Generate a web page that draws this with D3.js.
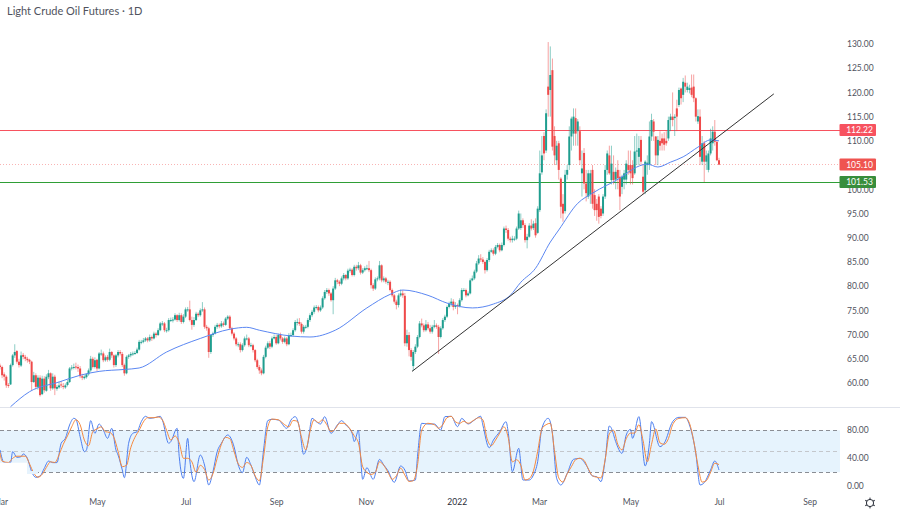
<!DOCTYPE html>
<html>
<head>
<meta charset="utf-8">
<title>Light Crude Oil Futures</title>
<script src="https://cdn.jsdelivr.net/npm/d3@7"></script>
<style>
  html, body { margin: 0; padding: 0; background: #fff; }
  svg { display: block; }
  text { font-family: Lato, "Liberation Sans", sans-serif; }
  .axis text { fill: #50535e; font-size: 8.5px; }
  .axis path, .axis line { display: none; }
</style>
</head>
<body>
<script>
// daily bars, ten per row
var opens = [
  63.6,63.3,61.8,61.3,59.6,59.7,63.7,65.7,66.6,64.4,
  63.6,65.8,65.4,65,64.8,64.4,60.2,61.6,59.2,61.1,
  57.7,60.9,58.4,61.2,62,58.9,61.3,58.8,59.1,59.7,
  59.4,59.1,59.6,60.2,63,63.1,63.4,63.3,63,61.4,
  61,61.2,61.8,62.6,65,63.3,64.8,63,66,66.1,
  64.7,65.4,64.8,66.4,65.7,63.7,65.7,66.4,66,63.7,
  62,65.4,65.7,66,66.1,66.2,66.9,68.4,68.5,68.8,
  69.2,68.8,69.5,69.2,70.2,69.9,70.9,72.3,72.3,70.9,
  70.9,73,73,73.1,74,73,74,72.6,73.7,75.2,
  75.2,73,72,73,74.3,74,75,75.2,71.6,71.3,
  66.4,69.9,70.2,71.6,72,71.7,72.3,72,73.3,73.7,
  71.3,70.2,69.2,68,68,66.8,67.8,69.2,69.2,67.8,
  67.8,66.8,64.7,63.3,62.6,62,65.4,67.3,68.2,67.5,
  69.2,69.5,68.2,69.9,69.2,68.5,69.2,68,69.9,69.9,
  70.9,72.6,72.6,72.2,70.6,71.6,71.6,73,74,74.7,
  75.6,75.7,75,75.6,77.5,78.8,79.2,78.5,77.1,79.5,
  81.2,80.9,80.5,81.6,82.3,81.6,83.2,83.4,82.3,84,
  83.7,84.3,82.8,83.3,83.7,83.7,83.3,80.2,79.5,81.4,
  81.6,84.3,81.2,81.6,80.9,80.9,79.2,78.1,76.8,76.1,
  78.1,78.5,78,68.2,69.9,66.8,63.5,66.4,67.5,69.5,
  72.3,71.9,70.9,72.1,71.3,70.6,71.6,71.9,71.6,69.5,
  71.3,73,73.7,75.7,76.4,76.8,75.7,76.1,75.9,77.1,
  79.2,79.2,78.1,78.5,81.2,81.6,83,84.7,85.7,85.5,
  85,83.3,85.4,87.1,87.4,86.7,88.1,88.5,87.4,88.5,
  91.9,91.6,89.8,89.5,89.8,89.8,91.9,92,93.6,92.6,
  89.5,90.2,92.5,92,93,91,95.7,103.5,111,108,
  121.2,120.5,124.6,111,106,109.5,102.2,97,95.5,103,
  105,110.9,111.5,114.7,112,112,103.3,107.5,101.2,98.5,
  99,104,98.8,97,98.5,96,95,98.5,104,107,
  101.9,103.6,102,104,102.6,100.5,102,102,105,105,
  105,103.3,107.8,106.7,110.2,102.6,99.8,105,105,110.9,
  114,110.9,107,110,110.5,110.5,110,110.5,114.3,115,
  114.7,116.7,117.4,120.8,119.5,122,120.5,120.5,121,121.2,
  118.8,114,115,105.7,109.5,105.7,104,107.4,109.5,111.9,
  109.8,106
];
var highs = [
  64,63.6,62.2,61.6,60,64,66,68,66.8,65,
  66.5,66.2,65.8,65.4,65,64.6,62.3,62,61.6,61.6,
  61.5,61.4,61.8,62.7,62.2,62,61.7,59.6,60.3,60.4,
  60,59.9,60.6,63.3,63.7,64,64.2,63.8,63.5,61.9,
  61.6,62,63,65.6,65.4,65.3,65,66.4,66.9,66.5,
  65.7,65.8,67.1,66.6,65.9,66,66.8,66.8,66.4,64,
  65.7,66,66.4,66.5,66.6,67.3,68.9,68.9,69.3,69.5,
  69.5,70,69.8,70.6,70.5,71.3,72.6,72.8,72.6,71.4,
  73.4,73.5,73.6,74.4,74.2,74.5,74.4,74.2,75.6,75.7,
  77,73.7,73.6,74.7,74.6,75.4,76.7,75.6,72,71.6,
  70,70.6,72,72.4,72.3,72.8,72.7,73.6,74,74,
  71.6,70.5,69.5,68.4,68.4,68.2,69.6,70,69.5,68.3,
  68.1,67,65,63.7,63,65.8,67.7,68.6,68.7,69.6,
  70,69.9,70.2,70.4,69.5,69.6,69.5,70.3,70.4,71.3,
  73,73.3,73.4,72.5,72,72,73.4,74.4,75.1,76,
  76.1,76,76,77.9,79.2,79.6,79.5,78.8,80,81.7,
  81.5,81.2,82,82.7,82.5,83.6,83.8,83.7,84.4,84.4,
  85,84.6,83.7,84.1,84.4,85.2,83.6,80.6,81.8,82,
  85.2,84.5,82,81.9,81.3,81.2,79.5,78.4,77.2,78.5,
  79.3,79.2,78.6,71,70.5,67.2,66.8,68,69.9,72.8,
  73.3,72.3,73,72.6,72,72,73,72.3,72,71.7,
  73.4,74.1,76,76.8,77.5,77.3,76.7,76.4,77.5,79.6,
  79.6,79.5,78.9,81.6,82.2,83.4,85.2,86.4,86.6,86,
  85.3,85.8,87.5,87.8,87.8,88.5,88.9,88.8,89,92.3,
  92.5,92,90.2,90.4,90.3,92.3,95.6,95,94,93,
  90.8,93,93.8,93.5,94,96.5,108,111,111.8,116.5,
  130.4,129.5,127,113,110,110,102.5,99,104,105,
  113,115,116.7,116.7,114.5,113,108,108.5,104,104,
  104,105,100,98,99,96.5,99,105,108,109,
  109,107,104.5,106,104,103,104,106,108,108,
  106,111,111.5,111,111,105,106,107,114,115.6,
  114.5,111,111,112,111.5,111.8,112,115,115.6,120,
  115.5,118.5,121,121,123,123.5,122,121.6,123.7,123.7,
  119,116.5,116.5,111,110,108,108,112.5,113,114.3,
  110,106.5
];
var lows = [
  62.8,61,60.5,59,59,59.6,63.4,65.2,64,63.2,
  63.3,64.9,64.5,64.2,63.9,58.5,60,58.7,58.6,57.2,
  57.5,58,58.2,60.8,58.4,58.6,57.5,58.4,58.8,59,
  58.7,58.8,59.3,60,62.6,62.8,62.8,62.3,61,60.6,
  60.7,60.9,61.5,62.3,63,63,62.5,62.8,65.6,64.3,
  64.4,64.4,64.5,65.2,63.2,63.3,65.3,65.7,63.3,61.5,
  61.8,65,65.3,65.6,65.8,66,66.7,68,68.2,68.5,
  68.4,68.5,68.7,69,69.4,69.7,70.7,71.8,70.5,70.4,
  70.6,72.6,72.5,72.9,72.6,72.7,72.2,72.3,73.4,74.7,
  72.7,71,71.6,72.8,73.6,73.7,74.7,71.2,70.8,65.2,
  66,69.5,70,71.2,71.3,71.4,71.6,71.8,73,71,
  69.8,68.8,67.6,67.4,66.3,66.5,67.5,68.8,67.4,67.4,
  66.3,64.3,62.9,61.9,61.6,61.8,65.1,67,67,67.2,
  69,67.9,68,68.8,68.1,68.2,67.6,67.8,69.5,69.6,
  70.6,71.9,71.8,70.2,70.2,71.2,71.3,72.6,73.6,74.3,
  75.2,74.6,74.7,75.3,77.2,78.4,78,76.8,74.2,79.2,
  80.4,80,80.2,81.2,81.2,81.3,82.8,82,82,83.2,
  83.3,82.4,82.5,83,83.3,82.9,79.5,79,79.2,81,
  81.2,80.8,80.8,80.5,80.2,78.9,77.7,76.4,75.2,75.6,
  77.8,77.6,67.6,67.5,65.5,64.6,62.5,66,67.2,69.2,
  71.5,70.5,70.6,70.9,70.2,70.2,71.3,71.2,66,69.2,
  71,72.6,73.4,75.4,75.8,75,75.3,74.2,75.6,76.8,
  78.8,77.7,77.9,78.3,81,81.3,82.7,84.4,85,84.6,
  82.6,83,85,86.9,86.3,86.4,87.8,87,87.2,88.2,
  91,89.4,89,89,89.3,89.5,91.6,91.6,92,89,
  87.8,90,91.5,91.6,90,90.8,95.3,103,106,107.5,
  115,115,108,105,105,102,94,93.3,95,102,
  104,108,109,109,109,105,98.5,100,97.5,98,
  97,96,94.5,93.5,92.9,94,94.5,98,103,103,
  101,101,100,100,95.7,99,100,101,103,101,
  101,103,105,105,105,99,99,103,104,110,
  110,105,105,108,108,108,109,110,112,113,
  111,112,117,117.5,118,120,120,119.8,119,118,
  114,113.5,105,105,101.5,104,103.5,107,108,109,
  105.8,105
];
var closes = [
  63.3,61.6,61.3,59.5,59.5,63.7,65.7,66.4,64.4,63.7,
  65.7,65.4,65,64.7,64.4,60.2,61.6,59.2,61.1,57.5,
  60.9,58.5,61.3,62,58.9,61.3,58.9,59.2,59.5,59.5,
  59.2,59.5,60.2,63,63.2,63.3,63.3,63,61.4,61.1,
  61.3,61.8,62.6,65,63.3,64.7,63,66.1,66.1,64.7,
  65.3,64.8,66.4,65.7,63.7,65.7,66.4,66.1,63.7,62,
  65.4,65.7,66,66.1,66.2,66.9,68.5,68.5,68.8,69.2,
  68.8,69.5,69.2,70.2,69.9,70.9,72.3,72.3,70.9,70.9,
  73,73,73.1,74,73,74,72.6,73.7,75.2,75.2,
  73,72,73,74.3,74,75,75.2,71.6,71.3,66.4,
  69.9,70.2,71.6,72,71.7,72.3,72,73.3,73.7,71.3,
  70.2,69.2,68,68,66.8,67.8,69.2,69.2,67.8,67.8,
  66.8,64.7,63.3,62.6,62,65.4,67.3,68.2,67.5,69.2,
  69.5,68.2,69.9,69.2,68.5,69.2,68,69.9,69.9,70.9,
  72.6,72.6,72.2,70.6,71.6,71.6,73,74,74.7,75.6,
  75.7,75,75.6,77.5,78.8,79.2,78.5,77.1,79.5,81.2,
  80.9,80.5,81.6,82.3,81.6,83.2,83.4,82.3,84,83.7,
  84.3,82.8,83.3,83.7,83.7,83.3,80.2,79.5,81.4,81.6,
  84.3,81.2,81.6,80.9,80.9,79.2,78.1,76.8,76.1,78.1,
  78.5,78.1,68.2,69.9,66.8,65.4,66.4,67.5,69.5,72.3,
  71.9,70.9,72.1,71.3,70.6,71.6,71.9,71.6,69.5,71.3,
  73,73.7,75.7,76.4,76.8,75.7,76.1,75.9,77.1,79.2,
  79.2,78.1,78.5,81.2,81.6,83,84.7,85.7,85.5,85,
  83.3,85.4,87.1,87.4,86.7,88.1,88.5,87.4,88.5,91.9,
  91.6,89.8,89.5,89.8,89.8,91.9,95,93.6,92.6,89.5,
  90.2,92.5,91.9,92.9,90.5,96,103.3,107,107.4,115.7,
  119.5,123.6,108.8,107,109,104,96.4,95,103,104,
  110.9,114.6,115,111.5,114,106,104.3,101.2,99.2,103.3,
  103.3,97,95.7,95.7,94.3,94.5,98.5,104,107.4,103.3,
  105.3,101.9,103.6,102.3,98.5,102.6,103.3,105.3,104,103.3,
  102.3,107.8,108,108.5,105.7,99.5,105.7,105.5,110.9,114.3,
  111.9,107,110.2,109,109.5,109.2,109.5,114.3,115,114.3,
  115,115,120.5,118.8,122.2,121.2,121.2,120.9,119.5,118.8,
  115,115.1,106.7,109.5,105.7,107,107.4,110.5,111.9,109.8,
  106,105.1
];

// moving average, read at these bars
var maBars = [5,14,28,38,47,59,66,79,95,109,117,123,138,147,159,174,185,191,203,212,224,234,242,247,254,261,265,274,281,294,302,307,312,318,324,331,337,341];
var maValues = [55.1,58.2,60.2,61.6,62.4,62.8,63.1,66.4,69.2,71.1,71.5,70.9,69.7,69.5,70.9,75.5,78.3,79.2,78.1,76.5,75.5,76.3,78.1,80.8,83.7,89.1,91.6,97.1,99.2,102.3,104.6,105.2,104.6,105.6,106.7,108.7,110.2,110];

// stochastic %K, read at these bars
var kBars = [0,2,4,5,6,8,10,11,13,15,17,19,21,23,25,27,29,31,33,35,36,38,40,41,43,45,47,49,51,53,55,56,58,59,61,63,65,67,69,71,74,76,77,80,81,84,85,87,89,90,92,95,97,99,101,103,105,108,111,113,115,117,119,121,123,125,127,129,132,136,138,140,
  142,144,146,148,150,152,154,157,160,162,164,167,168,170,171,172,174,177,180,182,184,187,190,192,194,197,198,200,203,206,209,211,214,217,219,222,225,228,229,232,234,237,240,241,243,246,248,251,253,255,257,260,262,264,266,269,272,275,278,281,283,
  285,287,289,290,292,295,297,299,300,303,306,308,309,313,315,319,322,325,327,330,332,334,337,339,341];
var kValues = [51.9,33.8,33.8,33.8,49.5,41.4,42.3,46.2,40,20.9,12.8,14.7,25.7,36,33.8,33.8,61.4,68.5,87.6,97.1,95.7,70.9,49.5,51.9,93.8,75.7,89,80.4,68.5,82.8,51.9,44.7,23.3,12.3,61.4,75.7,78,92.3,100,97.1,98.5,100,94.7,61.4,63.8,82.8,42.3,11.4,68.5,37.6,6.6,44.7,30.4,1.9,20.9,49.5,61.4,73.3,56.6,30.4,19.5,41.4,30.4,13.8,1.9,51.9,93.8,95.7,94.7,82.8,94.7,99.5,
  84,45.7,61.4,97.1,92.3,89,99.5,75.7,87.6,93.8,87.6,75.7,63.8,79.5,42.3,10,26.6,10,38.5,30.4,22.3,5.7,29,23.3,7.6,9,42.3,90,89,89,80.4,99.5,100,85.2,97,89,94.7,100,87.6,55,66,78,92.3,78,20.9,54.3,9,9,16.2,35.2,82.8,97.1,75.7,11.4,1.9,18.5,38.5,40,30.4,14.7,13.8,
  6.6,37.6,86.2,82.8,63.8,47.1,73.3,81.4,68.5,99.5,29,61.4,92.3,56.6,61.4,92.3,98.5,98.5,87.6,47.1,1.9,5.2,23.3,36.2,23.3];

// stochastic %D, read at these bars
var dBars = [0,1,4,6,8,10,12,14,16,18,20,22,24,26,28,30,32,34,36,38,40,42,44,46,48,50,52,54,56,58,60,62,64,66,68,70,73,75,77,79,81,83,85,87,89,91,93,95,97,99,101,103,105,107,109,111,113,115,117,119,121,123,125,127,129,132,135,137,139,141,143,145,147,149,151,153,155,157,159,161,163,166,168,170,172,174,176,178,180,182,184,186,188,190,192,194,196,198,200,203,206,208,210,212,214,216,218,220,222,225,227,229,231,233,235,237,239,241,243,245,247,249,251,253,255,257,259,261,263,265,267,269,271,273,275,277,279,281,283,285,287,289,291,293,295,297,299,301,303,305,307,309,311,313,315,317,319,322,325,327,329,331,333,335,337,339,341];
var dValues = [48,36,34,40,43,43,43,32,19,13,17,27,35,34,45,60,72,85,95,88,66,58,78,82,85,78,77,70,50,28,30,55,70,80,92,98,98,99,95,80,66,72,62,40,40,35,20,30,24,9,18,40,60,70,68,50,32,27,34,30,15,8,42,85,96,95,88,85,94,93,70,52,78,95,91,95,88,78,82,90,90,82,72,62,28,20,17,20,35,30,20,10,15,26,16,7,8,30,80,90,88,83,88,98,100,92,90,93,90,95,98,95,68,58,66,76,85,70,35,38,30,9,11,22,50,82,88,90,50,12,6,18,28,38,40,37,25,15,13,12,38,75,80,60,52,68,76,76,88,65,35,60,82,62,60,68,88,97,98,90,65,30,6,8,20,33,31];

var trendBars = [195.4, 367];
var trendValues = [62.4, 119.7];

var priceTicks = d3.range(60, 131, 5);
var stochTicks = [0, 40, 80];
var tickBars = [0, 46, 88, 131, 173.5, 216.6, 255.7, 299, 341, 384];
var tickLabels = ['Mar', 'May', 'Jul', 'Sep', 'Nov', '2022', 'Mar', 'May', 'Jul', 'Sep'];

var levels = [
  { value: 112.22, color: '#f7525f', dash: null },
  { value: 105.10, color: '#f9b4b4', dash: '1,2' },
  { value: 101.53, color: '#2f9e36', dash: null }
];
var tagColors = ['#f7525f', '#ef5350', '#388e3c'];

window.onload = function() {
    var w = 900, h = 512, plotRight = 840;

    var svg = d3.select('body')
        .append('svg')
        .attr('width', w)
        .attr('height', h);

    // bar index to pixel, price to pixel, stochastic to pixel
    var x = d3.scaleLinear().domain([0, 341]).range([0, 719]);
    var y = d3.scaleLinear().domain([60, 130]).range([383, 44]);
    var s = d3.scaleLinear().domain([0, 80]).range([486.3, 430.3]);

    // keep flat lines on the pixel grid
    function crisp(v) {
        return Math.floor(v + 0.3) + 0.5;
    }

    // stochastic band
    svg.append('rect')
        .attr('x', 0)
        .attr('y', s(80))
        .attr('width', plotRight)
        .attr('height', s(20) - s(80))
        .style('fill', '#e6f3fd');

    svg.selectAll('.stochLevel')
        .data([80, 50, 20])
        .enter()
        .append('line')
        .attr('class', 'stochLevel')
        .attr('x1', 0)
        .attr('x2', plotRight)
        .attr('y1', function(d) { return crisp(s(d)); })
        .attr('y2', function(d) { return crisp(s(d)); })
        .style('stroke', function(d) { return d == 50 ? '#c4c7cc' : '#8a8d94'; })
        .style('stroke-width', 1)
        .style('stroke-dasharray', '4,3');

    // stochastic lines
    var kLine = d3.line()
        .x(function(d, i) { return x(kBars[i]); })
        .y(function(d) { return s(d); })
        .curve(d3.curveMonotoneX);
    var dLine = d3.line()
        .x(function(d, i) { return x(dBars[i]); })
        .y(function(d) { return s(d); })
        .curve(d3.curveMonotoneX);

    svg.append('path')
        .attr('d', kLine(kValues))
        .style('fill', 'none')
        .style('stroke', '#4d7ff0')
        .style('stroke-width', 1);
    svg.append('path')
        .attr('d', dLine(dValues))
        .style('fill', 'none')
        .style('stroke', '#f5893f')
        .style('stroke-width', 1);

    // white patch at the lower left of the pane
    svg.append('rect')
        .attr('x', 0)
        .attr('y', 462.7)
        .attr('width', 27)
        .attr('height', 28)
        .style('fill', '#fff');
    svg.append('rect')
        .attr('x', 27)
        .attr('y', 471)
        .attr('width', 11)
        .attr('height', 3)
        .style('fill', '#e6f3fd');

    // pane separator
    svg.append('line')
        .attr('x1', 0)
        .attr('x2', w)
        .attr('y1', 407.5)
        .attr('y2', 407.5)
        .style('stroke', '#e0e3eb');

    // horizontal levels
    svg.selectAll('.level')
        .data(levels)
        .enter()
        .append('line')
        .attr('class', 'level')
        .attr('x1', 0)
        .attr('x2', plotRight)
        .attr('y1', function(d) { return crisp(y(d.value)); })
        .attr('y2', function(d) { return crisp(y(d.value)); })
        .style('stroke', function(d) { return d.color; })
        .style('stroke-width', 1)
        .style('stroke-dasharray', function(d) { return d.dash; });

    // candles
    var candles = svg.selectAll('.candle')
        .data(closes)
        .enter()
        .append('g')
        .attr('class', 'candle');

    function candleColor(i) {
        return closes[i] >= opens[i] ? '#1f9e8f' : '#ef4a4a';
    }

    candles.append('line')
        .attr('x1', function(d, i) { return x(i); })
        .attr('x2', function(d, i) { return x(i); })
        .attr('y1', function(d, i) { return y(highs[i]); })
        .attr('y2', function(d, i) { return y(lows[i]); })
        .style('stroke', function(d, i) { return candleColor(i); })
        .style('stroke-width', 1)
        .style('opacity', 0.5);

    candles.append('rect')
        .attr('x', function(d, i) { return x(i) - 1; })
        .attr('width', 2)
        .attr('y', function(d, i) { return y(Math.max(opens[i], closes[i])); })
        .attr('height', function(d, i) {
            return Math.max(1, Math.abs(y(opens[i]) - y(closes[i])));
        })
        .style('fill', function(d, i) { return candleColor(i); });

    // moving average
    var maLine = d3.line()
        .x(function(d, i) { return x(maBars[i]); })
        .y(function(d) { return y(d); })
        .curve(d3.curveMonotoneX);

    svg.append('path')
        .attr('d', maLine(maValues))
        .style('fill', 'none')
        .style('stroke', '#5b87f2')
        .style('stroke-width', 1);

    // trendline
    svg.append('line')
        .attr('x1', x(trendBars[0]))
        .attr('y1', y(trendValues[0]))
        .attr('x2', x(trendBars[1]))
        .attr('y2', y(trendValues[1]))
        .style('stroke', '#333')
        .style('stroke-width', 1);

    // axes
    svg.append('g')
        .attr('class', 'axis')
        .attr('transform', 'translate(847,0)')
        .call(d3.axisRight(y)
            .tickValues(priceTicks)
            .tickSize(0)
            .tickPadding(0)
            .tickFormat(d3.format('.2f')));

    svg.append('g')
        .attr('class', 'axis')
        .attr('transform', 'translate(847,-1)')
        .call(d3.axisRight(s)
            .tickValues(stochTicks)
            .tickSize(0)
            .tickPadding(0)
            .tickFormat(d3.format('.2f')));

    var timeAxis = svg.append('g')
        .attr('class', 'axis')
        .attr('transform', 'translate(0,499)')
        .call(d3.axisBottom(x)
            .tickValues(tickBars)
            .tickSize(0)
            .tickPadding(0)
            .tickFormat(function(d, i) { return tickLabels[i]; }));

    timeAxis.selectAll('text')
        .style('fill', function(d, i) { return tickLabels[i] == '2022' ? '#2a2e39' : '#50535e'; });

    // price tags
    var tags = svg.selectAll('.tag')
        .data(levels)
        .enter()
        .append('g')
        .attr('class', 'tag');

    tags.append('rect')
        .attr('x', 839.5)
        .attr('y', function(d) { return y(d.value) - 6; })
        .attr('width', 36.5)
        .attr('height', 12)
        .attr('rx', 1)
        .style('fill', function(d, i) { return tagColors[i]; });

    tags.append('text')
        .attr('x', 859.5)
        .attr('y', function(d) { return y(d.value) + 3; })
        .attr('text-anchor', 'middle')
        .style('fill', '#fff')
        .style('font-size', '8.5px')
        .text(function(d) { return d3.format('.2f')(d.value); });

    // title
    svg.append('text')
        .attr('x', 7)
        .attr('y', 15)
        .style('fill', '#50535e')
        .style('font-size', '11px')
        .text('Light Crude Oil Futures \u00b7 1D');

    // settings gear
    var gear = svg.append('g')
        .attr('transform', 'translate(870,503)');
    gear.append('circle')
        .attr('r', 3.6)
        .style('fill', 'none')
        .style('stroke', '#2a2e39');
    gear.selectAll('line')
        .data(d3.range(0, 360, 60))
        .enter()
        .append('line')
        .attr('y1', -3.6)
        .attr('y2', -5.4)
        .attr('transform', function(d) { return 'rotate(' + d + ')'; })
        .style('stroke', '#2a2e39');
};
</script>
</body>
</html>
